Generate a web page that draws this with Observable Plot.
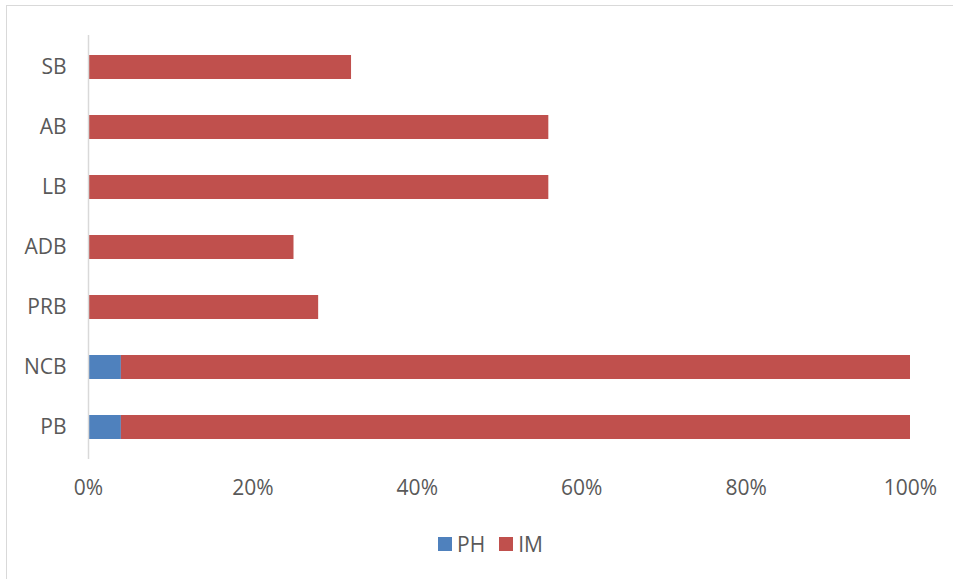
<!DOCTYPE html>
<html>
<head>
<meta charset="utf-8">
<script src="https://cdn.jsdelivr.net/npm/d3@7"></script>
<script src="https://cdn.jsdelivr.net/npm/@observablehq/plot@0.6"></script>
<style>
  html, body { margin: 0; padding: 0; background: #fff; }
  #wrap { position: relative; width: 953px; height: 579px; overflow: hidden; }
  #frame { position: absolute; left: 6px; top: 5px; width: 1000px; height: 1000px; border: 1px solid #d9d9d9; box-sizing: border-box; }
  #chart { position: absolute; left: 0; top: 0; }
  #legend { position: absolute; left: 438px; top: 530px; display: flex; gap: 14px;
    font-family: "Liberation Sans Narrow", "Open Sans", sans-serif; font-size: 21px; color: #595959; }
  .item { display: flex; align-items: center; gap: 5px; }
  .sw { width: 14px; height: 14px; display: inline-block; }
</style>
</head>
<body>
<div id="wrap">
  <div id="frame"></div>
  <div id="chart"></div>
  <div id="legend"></div>
</div>
<script>
const categories = ["SB", "AB", "LB", "ADB", "PRB", "NCB", "PB"];
const seriesNames = ["PH", "IM"];
const phValues = [0, 0, 0, 0, 0, 4, 4];
const imValues = [32, 56, 56, 25, 28, 96, 96];
const xTicks = [0, 20, 40, 60, 80, 100];
const colors = ["#4f81bd", "#c0504d"];

const data = [];
categories.forEach((c, i) => {
  data.push({category: c, series: "PH", value: phValues[i]});
  data.push({category: c, series: "IM", value: imValues[i]});
});

const font = '"Liberation Sans Narrow", "Open Sans", sans-serif';

const chart = Plot.plot({
  width: 953,
  height: 520,
  marginLeft: 88,
  marginRight: 43,
  marginTop: 35,
  marginBottom: 61,
  style: {fontFamily: font, fontSize: "21px", color: "#595959", background: "transparent"},
  x: {domain: [0, 100], ticks: xTicks, tickFormat: d => d + "%", label: null, tickSize: 0, tickPadding: 21},
  y: {domain: categories, label: null, tickSize: 0, tickPadding: 22, paddingInner: 0.6, paddingOuter: 0.3},
  color: {domain: seriesNames, range: colors},
  marks: [
    Plot.barX(data, Plot.stackX({y: "category", x: "value", fill: "series", order: seriesNames})),
    Plot.ruleX([0], {stroke: "#d9d9d9", strokeWidth: 1.5})
  ]
});
document.getElementById("chart").appendChild(chart);

const legend = document.getElementById("legend");
seriesNames.forEach((s, i) => {
  const item = document.createElement("span");
  item.className = "item";
  const sw = document.createElement("span");
  sw.className = "sw";
  sw.style.background = colors[i];
  item.appendChild(sw);
  item.appendChild(document.createTextNode(s));
  legend.appendChild(item);
});
</script>
</body>
</html>
